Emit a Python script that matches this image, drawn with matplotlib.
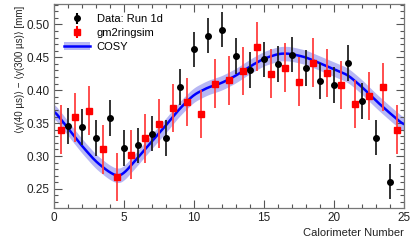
import numpy as np
import matplotlib
matplotlib.use("Agg")
import matplotlib.pyplot as plt
from matplotlib.ticker import MultipleLocator, FormatStrFormatter
from matplotlib.lines import Line2D
from matplotlib.patches import Patch

plt.rcParams["font.family"] = ["Liberation Sans", "DejaVu Sans"]

# Data: Run 1d (black), calorimeters 1..24
data_x = np.arange(1, 25)
data_y = [0.346, 0.344, 0.327, 0.358, 0.312, 0.316, 0.334, 0.327,
          0.405, 0.462, 0.483, 0.492, 0.452, 0.431, 0.447, 0.440,
          0.454, 0.434, 0.414, 0.408, 0.441, 0.384, 0.328, 0.261]
data_err = 0.027

# gm2ringsim (red), half-integer positions
sim_x = np.arange(0.5, 25, 1.0)
sim_y = [0.340, 0.359, 0.369, 0.310, 0.268, 0.302, 0.327, 0.349,
         0.373, 0.382, 0.364, 0.410, 0.415, 0.429, 0.466, 0.425,
         0.434, 0.413, 0.442, 0.426, 0.408, 0.379, 0.391, 0.405, 0.340]
sim_err = 0.037

# COSY prediction
cosy_x = [0, 1, 2, 3, 4, 4.6, 5, 6, 7, 8, 9, 10, 11, 12, 13, 14, 15,
          16, 16.5, 17, 18, 19, 20, 21, 22, 23, 24, 25]
cosy_y = [0.370, 0.343, 0.316, 0.292, 0.275, 0.269, 0.273, 0.297, 0.322,
          0.346, 0.372, 0.393, 0.404, 0.411, 0.422, 0.436, 0.448,
          0.455, 0.456, 0.455, 0.450, 0.441, 0.432, 0.423, 0.405,
          0.384, 0.365, 0.347]
cosy_band = 0.011

fig = plt.figure(figsize=(4.15, 2.42), dpi=100)
ax = fig.add_axes([53.5 / 415, 1 - 208 / 242, 350.5 / 415, 204 / 242])

cx = np.linspace(0, 25, 400)
cy = np.interp(cx, cosy_x, cosy_y)
# smooth the polyline a little
k = np.ones(11) / 11
cy_s = np.convolve(np.pad(cy, 5, mode="edge"), k, mode="valid")
ax.fill_between(cx, cy_s - cosy_band, cy_s + cosy_band, color="#9999f0",
                alpha=0.7, lw=0, zorder=1)
ax.plot(cx, cy_s, color="#0000ff", lw=1.8, zorder=2)

ax.errorbar(sim_x, sim_y, yerr=sim_err, fmt="s", color="#ff0000",
            ecolor="#ff4040", elinewidth=1.3, ms=4, capsize=0, zorder=3)
ax.errorbar(data_x, data_y, yerr=data_err, fmt="o", color="black",
            ecolor="#222222", elinewidth=1.3, ms=4, capsize=0, zorder=4)

ax.set_xlim(0, 25)
ax.set_ylim(0.221, 0.531)
ax.xaxis.set_major_locator(MultipleLocator(5))
ax.xaxis.set_minor_locator(MultipleLocator(1))
ax.yaxis.set_major_locator(MultipleLocator(0.05))
ax.yaxis.set_minor_locator(MultipleLocator(0.01))
ax.yaxis.set_major_formatter(FormatStrFormatter("%.2f"))
ax.tick_params(which="both", direction="in", top=True, right=True,
               labelsize=8.5, color="#555555", labelcolor="#222222")
ax.tick_params(which="major", length=6, width=0.8, pad=3)
ax.tick_params(which="minor", length=3, width=0.8)
for s in ax.spines.values():
    s.set_color("#777777")
    s.set_linewidth(0.9)

ax.set_ylabel("⟨y(40 µs)⟩ − ⟨y(300 µs)⟩ [mm]", fontsize=7, color="#222222")
ax.yaxis.set_label_coords(-0.082, 0.68)
ax.set_xlabel("Calorimeter Number", fontsize=8, color="#222222")
ax.xaxis.set_label_coords(1.0, -0.10)
ax.xaxis.label.set_horizontalalignment("right")
ax.xaxis.label.set_verticalalignment("top")

band = (Patch(facecolor="#9999f0", alpha=0.7), Line2D([], [], color="#0000ff", lw=1.8))
eb = [ax.errorbar([], [], yerr=[], fmt="o", color="black", ms=4),
      ax.errorbar([], [], yerr=[], fmt="s", color="#ff0000", ms=4)]
ax.legend([eb[0], eb[1], band], ["Data: Run 1d", "gm2ringsim", "COSY"],
          loc="upper left", frameon=False, fontsize=8,
          bbox_to_anchor=(0.0, 1.0), handlelength=2.4, handletextpad=0.6,
          labelspacing=0.35, borderaxespad=0.5)

fig.savefig("out.png", dpi=100)
